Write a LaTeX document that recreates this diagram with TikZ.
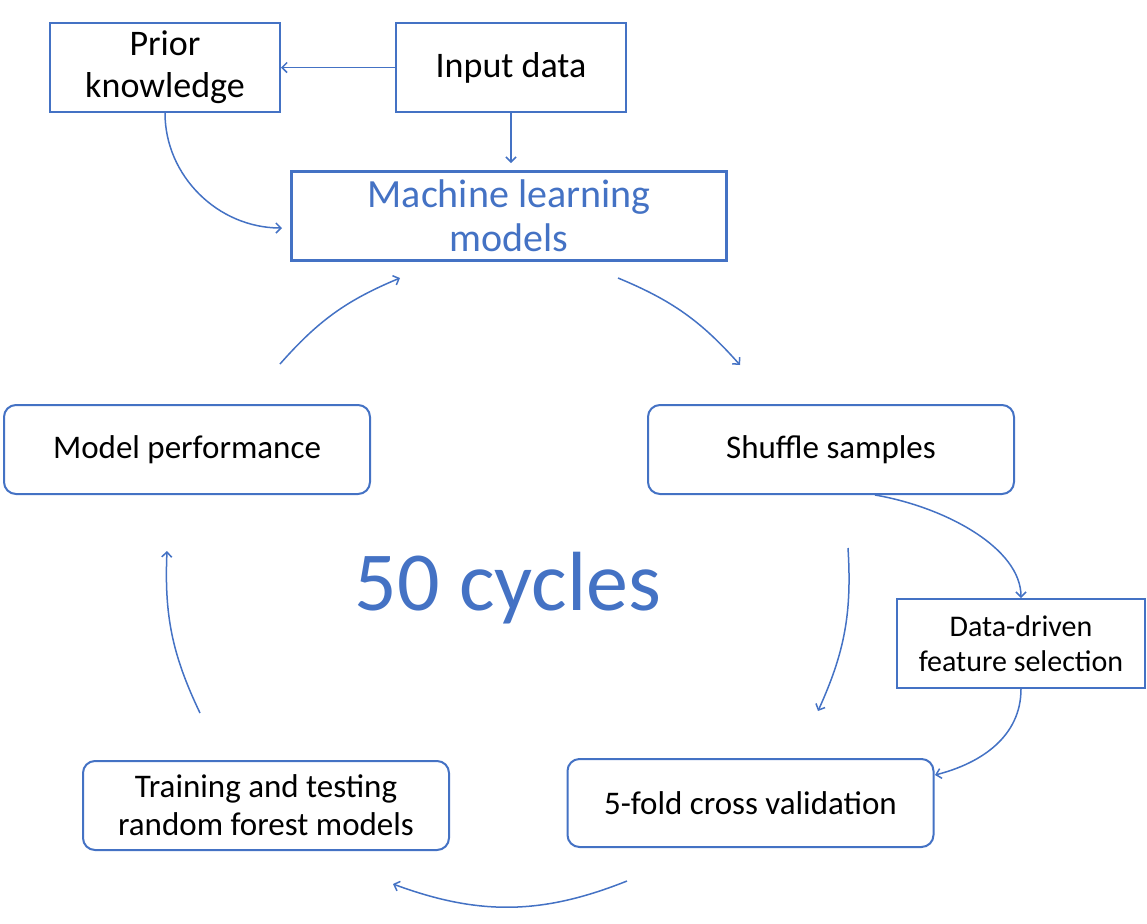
\documentclass[tikz,border=0pt]{standalone}
\usepackage{fontspec}
\setmainfont{Carlito}
\usetikzlibrary{arrows.meta}
\definecolor{mlblue}{HTML}{4472C4}
\begin{document}
\begin{tikzpicture}[x=0.5pt,y=-0.5pt,
    box/.style={draw=mlblue, line width=1pt, align=center, inner sep=0pt},
    cyclebox/.style={box, rounded corners=6pt, minimum width=183pt, minimum height=44.5pt,
        font=\fontsize{16.5}{19}\selectfont},
    flow/.style={draw=mlblue, line width=0.75pt, -{Straight Barb[length=2.5pt,width=5pt]}}]
    \useasboundingbox (0,0) rectangle (1147,923);

    \node[box, minimum width=115pt, minimum height=44.5pt, font=\fontsize{18}{21}\selectfont] (prior) at (165,67.5) {Prior\\knowledge};
    \node[box, minimum width=115pt, minimum height=44.5pt, font=\fontsize{18}{21}\selectfont] (input) at (511,67.5) {Input data};
    \node[box, line width=1.5pt, minimum width=217.5pt, minimum height=44.5pt, text=mlblue,
        font=\fontsize{20}{22}\selectfont] (ml) at (509,216) {Machine learning\\models};

    \node[cyclebox] (perf) at (187,449.5) {Model performance};
    \node[cyclebox] (shuffle) at (831,449.5) {Shuffle samples};
    \node[box, minimum width=124pt, minimum height=44.5pt, font=\fontsize{15}{17.5}\selectfont] (select) at (1021,643.5) {Data-driven\\feature selection};
    \node[cyclebox, minimum height=44pt] (fold) at (750.5,803) {5-fold cross validation};
    \node[cyclebox] (train) at (266,805.5) {Training and testing\\random forest models};

    \node[text=mlblue, font=\fontsize{42}{48}\selectfont] (cycles) at (508,588) {50 cycles};

    % inputs
    \draw[flow] (input) -- (prior);
    \draw[flow, shorten >=3.5pt] (input) -- (input |- ml.north);
    \coordinate (mlin) at (282,228);
    \draw[flow] (prior.south) .. controls +(0,63) and +(-64,0) .. (mlin);

    % feature selection branch
    \draw[flow] ([xshift=22pt]shuffle.south) .. controls +(70,12) and +(0,-50) .. (select.north);
    \coordinate (foldin) at (935,775);
    \draw[flow] (select.south) .. controls +(0,47) and +(47,-12) .. (foldin);

    % the cycle
    \coordinate (c1) at (618,278);  \coordinate (c2) at (740,365);
    \coordinate (c3) at (848,548);  \coordinate (c4) at (818,711);
    \coordinate (c5) at (627,881);  \coordinate (c6) at (393,884);
    \coordinate (c7) at (200,713);  \coordinate (c8) at (167,551);
    \coordinate (c9) at (280,364);  \coordinate (c10) at (400,278);
    \draw[flow] (c1) to[bend left=13] (c2);
    \draw[flow] (c3) to[bend left=14] (c4);
    \draw[flow] (c5) to[bend left=21] (c6);
    \draw[flow] (c7) to[bend left=14] (c8);
    \draw[flow] (c9) to[bend left=13] (c10);
\end{tikzpicture}
\end{document}
